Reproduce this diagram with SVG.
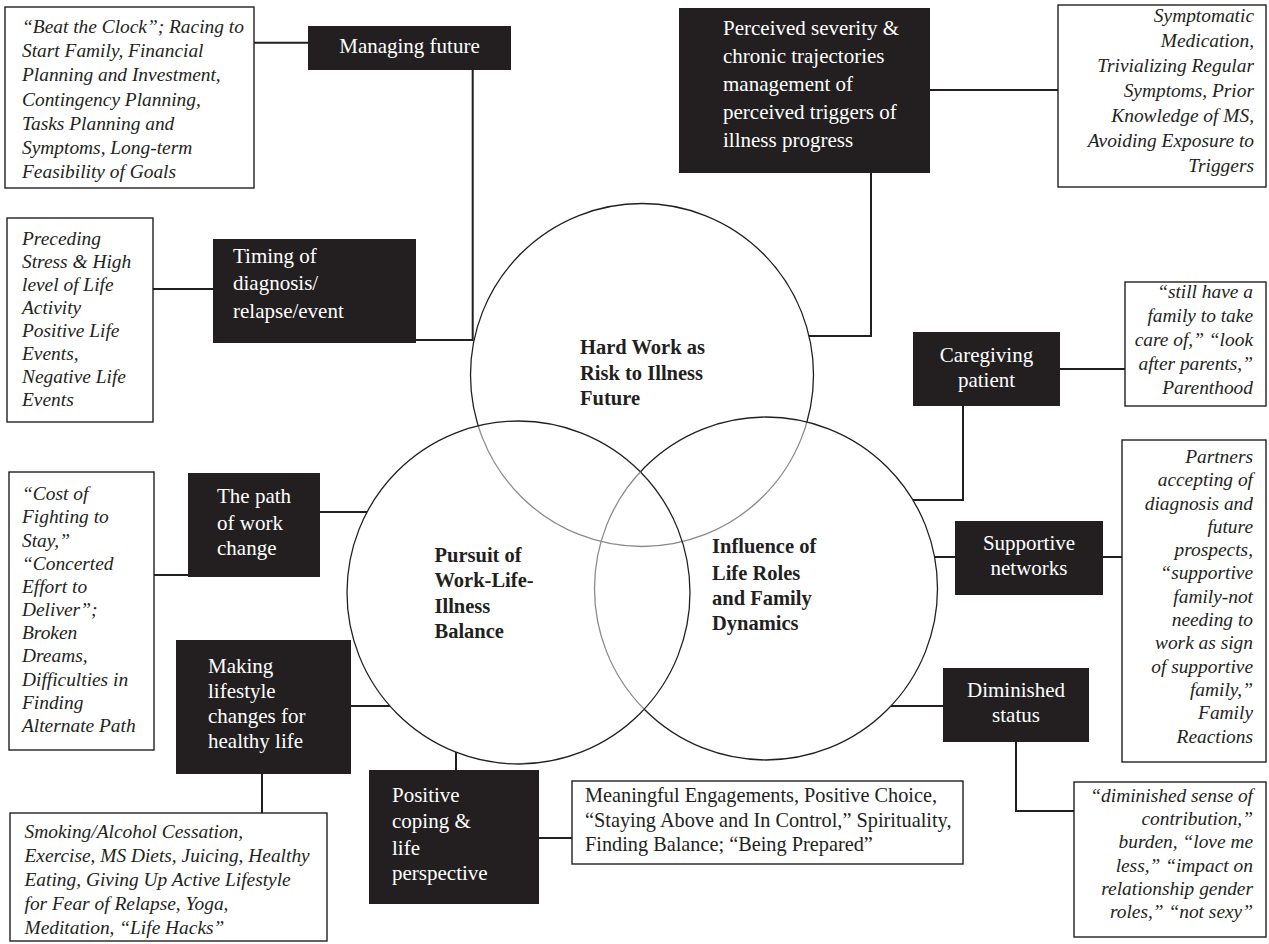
<svg xmlns="http://www.w3.org/2000/svg" width="1269" height="944" viewBox="0 0 1269 944">
<style>
.bk{fill:#231f20}
.wb{fill:#fff;stroke:#231f20;stroke-width:1.4}
.t{font-family:"Liberation Serif","Times New Roman",serif;font-size:21px;fill:#fff}
.tc{text-anchor:middle}
.i{font-family:"Liberation Serif","Times New Roman",serif;font-style:italic;font-size:19.4px;fill:#231f20}
.ir{text-anchor:end}
.r{font-family:"Liberation Serif","Times New Roman",serif;font-size:20.3px;fill:#231f20}
.b{font-family:"Liberation Serif","Times New Roman",serif;font-weight:bold;font-size:20.5px;fill:#231f20}
.c{stroke:#231f20;stroke-width:2;fill:none}
.ck{fill:none;stroke:#231f20;stroke-width:1.3}
.cg{fill:none;stroke:#8a8a8a;stroke-width:1.3}
</style>
<defs>
<clipPath id="inLR"><circle cx="518.5" cy="592.5" r="171.5"/><circle cx="766" cy="588.5" r="171.5"/></clipPath>
<clipPath id="inL"><circle cx="518.5" cy="592.5" r="171.5"/></clipPath>
<mask id="outLR"><rect width="1269" height="944" fill="#fff"/><circle cx="518.5" cy="592.5" r="171.5" fill="#000"/><circle cx="766" cy="588.5" r="171.5" fill="#000"/></mask>
<mask id="outL"><rect width="1269" height="944" fill="#fff"/><circle cx="518.5" cy="592.5" r="171.5" fill="#000"/></mask>
</defs>
<rect width="1269" height="944" fill="#fff"/>

<g id="connectors">
<path class="c" d="M254,42.7 H308"/>
<path class="c" d="M472.7,70 V340 H416"/>
<path class="c" d="M153,289 H213"/>
<path class="c" d="M930,90 H1058"/>
<path class="c" d="M871,173 V336 H809"/>
<path class="c" d="M1060,369 H1125"/>
<path class="c" d="M963,406 V500 H913"/>
<path class="c" d="M935,557 H955"/>
<path class="c" d="M1103,557 H1122"/>
<path class="c" d="M891,706 H943"/>
<path class="c" d="M1016,742 V811 H1074"/>
<path class="c" d="M154,575 H188"/>
<path class="c" d="M320,512 H367"/>
<path class="c" d="M351,706 H390"/>
<path class="c" d="M262,774 V813"/>
<path class="c" d="M456,752 V770"/>
<path class="c" d="M539,838 H572"/>
</g>

<g id="circle-hard-work">
<circle class="ck" cx="642" cy="375" r="171.5" mask="url(#outLR)"/>
<circle class="cg" cx="642" cy="375" r="171.5" clip-path="url(#inLR)"/>
<text class="b"><tspan x="580" y="354">Hard Work as</tspan><tspan x="580" y="380">Risk to Illness</tspan><tspan x="580" y="405">Future</tspan></text>
</g>
<g id="circle-pursuit">
<circle class="ck" cx="518.5" cy="592.5" r="171.5"/>
<text class="b"><tspan x="434.5" y="562">Pursuit of</tspan><tspan x="434.5" y="587">Work-Life-</tspan><tspan x="434.5" y="613">Illness</tspan><tspan x="434.5" y="638">Balance</tspan></text>
</g>
<g id="circle-influence">
<circle class="ck" cx="766" cy="588.5" r="171.5" mask="url(#outL)"/>
<circle class="cg" cx="766" cy="588.5" r="171.5" clip-path="url(#inL)"/>
<text class="b"><tspan x="712" y="553">Influence of</tspan><tspan x="712" y="580">Life Roles</tspan><tspan x="712" y="605">and Family</tspan><tspan x="712" y="630">Dynamics</tspan></text>
</g>

<g id="beat-clock">
<rect class="wb" x="5" y="7" width="249" height="181"/>
<text class="i"><tspan x="22" y="33">“Beat the Clock”; Racing to</tspan><tspan x="22" y="57">Start Family, Financial</tspan><tspan x="22" y="81">Planning and Investment,</tspan><tspan x="22" y="106">Contingency Planning,</tspan><tspan x="22" y="130">Tasks Planning and</tspan><tspan x="22" y="154">Symptoms, Long-term</tspan><tspan x="22" y="178">Feasibility of Goals</tspan></text>
</g>
<g id="managing-future">
<rect class="bk" x="308" y="26" width="203" height="44"/>
<text class="t tc" x="409.5" y="53">Managing future</text>
</g>
<g id="perceived-severity">
<rect class="bk" x="679" y="8" width="251" height="165"/>
<text class="t"><tspan x="723" y="35">Perceived severity &amp;</tspan><tspan x="723" y="63">chronic trajectories</tspan><tspan x="723" y="91">management of</tspan><tspan x="723" y="119">perceived triggers of</tspan><tspan x="723" y="147">illness progress</tspan></text>
</g>
<g id="symptomatic">
<rect class="wb" x="1058" y="5" width="208" height="182"/>
<text class="i ir"><tspan x="1254" y="22">Symptomatic</tspan><tspan x="1254" y="47">Medication,</tspan><tspan x="1254" y="72">Trivializing Regular</tspan><tspan x="1254" y="97">Symptoms, Prior</tspan><tspan x="1254" y="122">Knowledge of MS,</tspan><tspan x="1254" y="147">Avoiding Exposure to</tspan><tspan x="1254" y="172">Triggers</tspan></text>
</g>
<g id="preceding">
<rect class="wb" x="7" y="218" width="146" height="204"/>
<text class="i"><tspan x="22" y="245">Preceding</tspan><tspan x="22" y="268">Stress &amp; High</tspan><tspan x="22" y="291">level of Life</tspan><tspan x="22" y="314">Activity</tspan><tspan x="22" y="337">Positive Life</tspan><tspan x="22" y="360">Events,</tspan><tspan x="22" y="383">Negative Life</tspan><tspan x="22" y="406">Events</tspan></text>
</g>
<g id="timing">
<rect class="bk" x="213" y="239" width="203" height="104"/>
<text class="t"><tspan x="233" y="263">Timing of</tspan><tspan x="233" y="290">diagnosis/</tspan><tspan x="233" y="318">relapse/event</tspan></text>
</g>
<g id="still-have-family">
<rect class="wb" x="1125" y="282" width="141" height="124"/>
<text class="i ir"><tspan x="1253" y="298">“still have a</tspan><tspan x="1253" y="322">family to take</tspan><tspan x="1253" y="346">care of,” “look</tspan><tspan x="1253" y="370">after parents,”</tspan><tspan x="1253" y="394">Parenthood</tspan></text>
</g>
<g id="caregiving">
<rect class="bk" x="913" y="332" width="147" height="74"/>
<text class="t tc"><tspan x="986.5" y="362">Caregiving</tspan><tspan x="986.5" y="387">patient</tspan></text>
</g>
<g id="cost-of-fighting">
<rect class="wb" x="9" y="472" width="145" height="278"/>
<text class="i"><tspan x="22" y="500">“Cost of</tspan><tspan x="22" y="523">Fighting to</tspan><tspan x="22" y="547">Stay,”</tspan><tspan x="22" y="570">“Concerted</tspan><tspan x="22" y="593">Effort to</tspan><tspan x="22" y="616">Deliver”;</tspan><tspan x="22" y="639">Broken</tspan><tspan x="22" y="662">Dreams,</tspan><tspan x="22" y="686">Difficulties in</tspan><tspan x="22" y="709">Finding</tspan><tspan x="22" y="732">Alternate Path</tspan></text>
</g>
<g id="path-work-change">
<rect class="bk" x="188" y="473" width="132" height="104"/>
<text class="t"><tspan x="217" y="503">The path</tspan><tspan x="217" y="530">of work</tspan><tspan x="217" y="555">change</tspan></text>
</g>
<g id="making-lifestyle">
<rect class="bk" x="176" y="640" width="175" height="134"/>
<text class="t"><tspan x="208" y="673">Making</tspan><tspan x="208" y="698">lifestyle</tspan><tspan x="208" y="723">changes for</tspan><tspan x="208" y="748">healthy life</tspan></text>
</g>
<g id="smoking">
<rect class="wb" x="10" y="813" width="317" height="128"/>
<text class="i"><tspan x="24.5" y="838">Smoking/Alcohol Cessation,</tspan><tspan x="24.5" y="862">Exercise, MS Diets, Juicing, Healthy</tspan><tspan x="24.5" y="886">Eating, Giving Up Active Lifestyle</tspan><tspan x="24.5" y="910">for Fear of Relapse, Yoga,</tspan><tspan x="24.5" y="934">Meditation, “Life Hacks”</tspan></text>
</g>
<g id="positive-coping">
<rect class="bk" x="369" y="770" width="170" height="134"/>
<text class="t"><tspan x="392" y="802">Positive</tspan><tspan x="392" y="828">coping &amp;</tspan><tspan x="392" y="855">life</tspan><tspan x="392" y="880">perspective</tspan></text>
</g>
<g id="meaningful">
<rect class="wb" x="572" y="781" width="391" height="83"/>
<text class="r"><tspan x="585" y="802">Meaningful Engagements, Positive Choice,</tspan><tspan x="585" y="827">“Staying Above and In Control,” Spirituality,</tspan><tspan x="585" y="851">Finding Balance; “Being Prepared”</tspan></text>
</g>
<g id="supportive-networks">
<rect class="bk" x="955" y="521" width="148" height="74"/>
<text class="t tc"><tspan x="1029" y="550">Supportive</tspan><tspan x="1029" y="575">networks</tspan></text>
</g>
<g id="partners">
<rect class="wb" x="1122" y="440" width="144" height="322"/>
<text class="i ir"><tspan x="1253" y="463">Partners</tspan><tspan x="1253" y="486">accepting of</tspan><tspan x="1253" y="510">diagnosis and</tspan><tspan x="1253" y="533">future</tspan><tspan x="1253" y="556">prospects,</tspan><tspan x="1253" y="579">“supportive</tspan><tspan x="1253" y="603">family-not</tspan><tspan x="1253" y="626">needing to</tspan><tspan x="1253" y="649">work as sign</tspan><tspan x="1253" y="673">of supportive</tspan><tspan x="1253" y="696">family,”</tspan><tspan x="1253" y="719">Family</tspan><tspan x="1253" y="743">Reactions</tspan></text>
</g>
<g id="diminished-status">
<rect class="bk" x="943" y="668" width="146" height="74"/>
<text class="t tc"><tspan x="1016" y="697">Diminished</tspan><tspan x="1016" y="722">status</tspan></text>
</g>
<g id="diminished-quotes">
<rect class="wb" x="1074" y="782" width="192" height="155"/>
<text class="i ir"><tspan x="1253" y="802">“diminished sense of</tspan><tspan x="1253" y="825">contribution,”</tspan><tspan x="1253" y="848">burden, “love me</tspan><tspan x="1253" y="872">less,” “impact on</tspan><tspan x="1253" y="895">relationship gender</tspan><tspan x="1253" y="918">roles,” “not sexy”</tspan></text>
</g>
</svg>
